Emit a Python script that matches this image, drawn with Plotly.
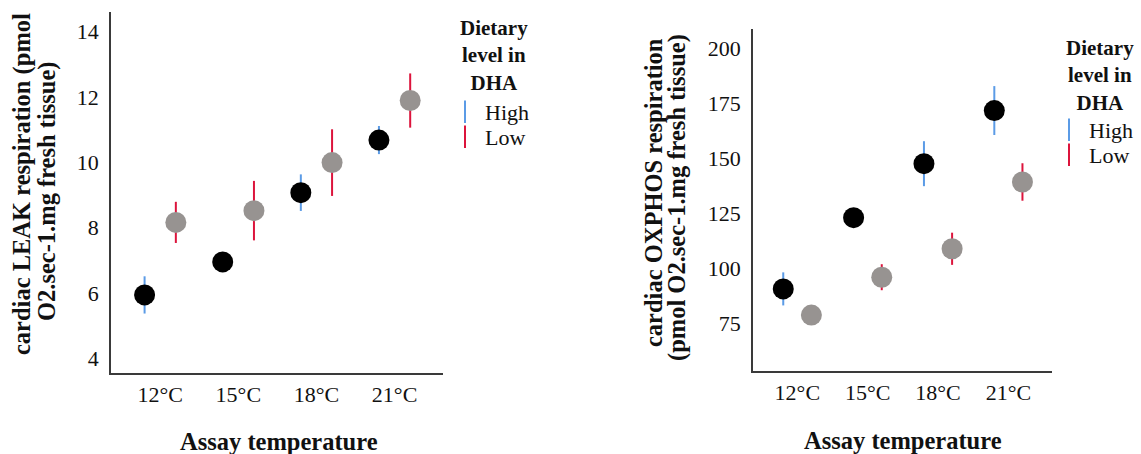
import plotly.graph_objects as go

# ---------------- data ----------------
temps = ["12°C", "15°C", "18°C", "21°C"]
diet_levels = ["High", "Low"]

leak_high = [5.94, 6.95, 9.07, 10.68]
leak_high_se = [0.57, 0.25, 0.56, 0.43]
leak_low = [8.16, 8.52, 9.99, 11.89]
leak_low_se = [0.63, 0.91, 1.02, 0.83]

oxphos_high = [90.7, 123.0, 147.5, 171.6]
oxphos_high_se = [7.5, 4.0, 10.2, 11.1]
oxphos_low = [78.8, 96.0, 108.9, 139.2]
oxphos_low_se = [3.0, 5.9, 7.3, 8.5]

leak_ticks = [4, 6, 8, 10, 12, 14]
oxphos_ticks = [75, 100, 125, 150, 175, 200]

# ---------------- style ----------------
W, H = 1141, 454
FONT = "Liberation Serif"
marker_colors = {"High": "#000000", "Low": "#979391"}
bar_colors = {"High": "#5B9BE6", "Low": "#DC143C"}
dodge = {"High": -0.2, "Low": 0.2}


def px(x):
    return x / W


def py(y):
    return 1 - y / H


fig = go.Figure()

panels = [
    dict(xa="x", ya="y", data={"High": (leak_high, leak_high_se), "Low": (leak_low, leak_low_se)}),
    dict(xa="x2", ya="y2", data={"High": (oxphos_high, oxphos_high_se), "Low": (oxphos_low, oxphos_low_se)}),
]

for p in panels:
    for lvl in diet_levels:
        vals, se = p["data"][lvl]
        xs = [i + dodge[lvl] for i in range(len(temps))]
        fig.add_trace(go.Scatter(
            x=xs, y=vals, mode="markers", xaxis=p["xa"], yaxis=p["ya"],
            marker=dict(size=21, color=marker_colors[lvl], line=dict(width=0)),
            error_y=dict(type="data", array=se, symmetric=True, color=bar_colors[lvl],
                         thickness=2, width=0),
            showlegend=False, name=lvl,
        ))

# legend entries (vertical line symbols), one legend per item for exact placement
legend_specs = [
    ("legend", "High", 445, 112),
    ("legend2", "Low", 445, 137),
    ("legend3", "High", 1049, 130),
    ("legend4", "Low", 1049, 155),
]
for lg, lvl, lx, ly in legend_specs:
    fig.add_trace(go.Scatter(
        x=[None], y=[None], mode="markers", name=lvl, legend=lg,
        marker=dict(symbol="line-ns-open", size=16, color=bar_colors[lvl],
                    line=dict(width=2, color=bar_colors[lvl])),
        showlegend=True,
    ))

legend_common = dict(
    font=dict(family=FONT, size=22, color="#111111"),
    bgcolor="rgba(0,0,0,0)", borderwidth=0,
    xanchor="left", yanchor="middle", itemsizing="trace",
)
legend_layout = {}
for lg, lvl, lx, ly in legend_specs:
    legend_layout[lg] = dict(x=px(lx), y=py(ly), **legend_common)

axis_common = dict(
    showgrid=False, zeroline=False, showline=True, linecolor="#3a3a3a", linewidth=1.5,
    ticks="", tickfont=dict(family=FONT, size=22, color="#111111"),
)

fig.update_layout(
    width=W, height=H,
    margin=dict(l=0, r=0, t=0, b=0),
    paper_bgcolor="white", plot_bgcolor="white",
    showlegend=True,
    xaxis=dict(domain=[px(111), px(443)], range=[-0.63, 3.62], tickvals=list(range(4)),
               ticktext=temps, anchor="y", ticklabelstandoff=1, **axis_common),
    yaxis=dict(domain=[py(373), py(12)], range=[3.55, 14.6], tickvals=leak_ticks,
               anchor="x", ticklabelstandoff=6, **axis_common),
    xaxis2=dict(domain=[px(753), px(1052)], range=[-0.63, 3.62], tickvals=list(range(4)),
                ticktext=temps, anchor="y2", ticklabelstandoff=1, **axis_common),
    yaxis2=dict(domain=[py(371), py(29)], range=[53.45, 208.6], tickvals=oxphos_ticks,
                anchor="x2", ticklabelstandoff=6, **axis_common),
    **legend_layout,
)

bold = dict(family=FONT, size=24.5, color="#111111", weight="bold")
title_font = dict(family=FONT, size=21, color="#111111", weight="bold")

annotations = [
    # x-axis titles
    dict(text="Assay temperature", x=px(279), y=py(441), font=bold),
    dict(text="Assay temperature", x=px(903), y=py(440), font=bold),
    # y-axis titles (two lines each)
    dict(text="cardiac LEAK respiration (pmol", x=px(22), y=py(184), font=bold, textangle=-90),
    dict(text="O2.sec-1.mg fresh tissue)", x=px(47), y=py(192), font=bold, textangle=-90),
    dict(text="cardiac OXPHOS respiration", x=px(653), y=py(193), font=bold, textangle=-90),
    dict(text="(pmol O2.sec-1.mg fresh tissue)", x=px(677), y=py(198), font=bold, textangle=-90),
    # legend titles
    dict(text="Dietary<br>level in<br>DHA", x=px(494), y=py(56), font=title_font),
    dict(text="Dietary<br>level in<br>DHA", x=px(1100), y=py(75), font=title_font),
]
for a in annotations:
    a.update(xref="paper", yref="paper", xanchor="center", yanchor="middle", showarrow=False)
fig.update_layout(annotations=annotations)

fig.write_html("out.html")
